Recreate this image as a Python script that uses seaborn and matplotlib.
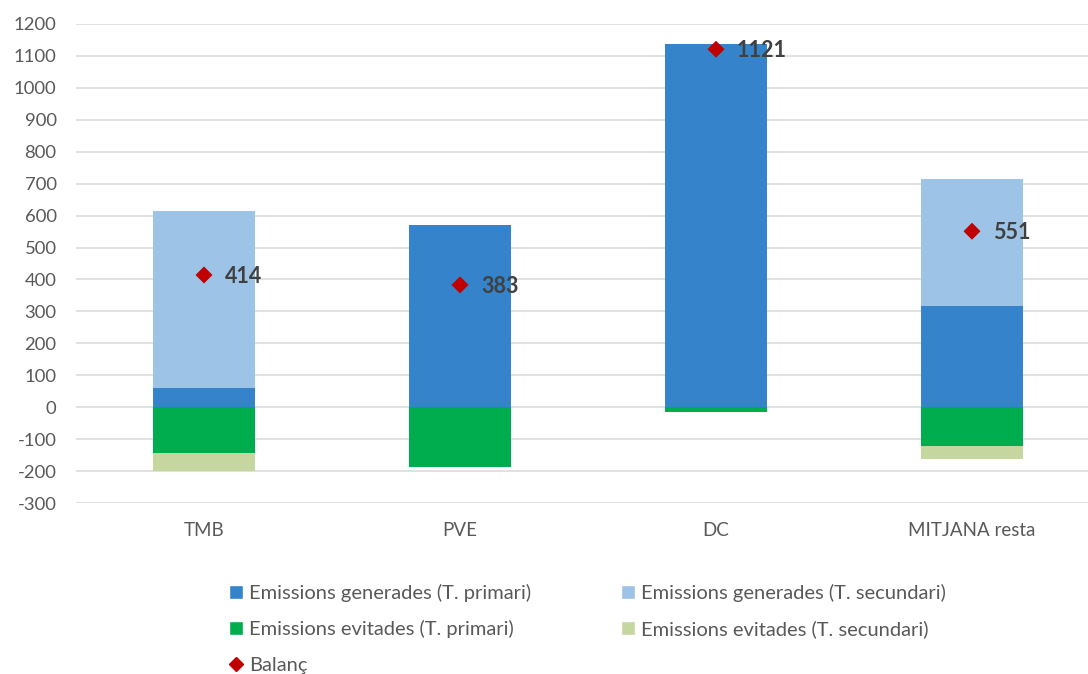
import matplotlib
matplotlib.use("Agg")
import matplotlib.pyplot as plt
import seaborn as sns
import pandas as pd
import numpy as np
from matplotlib.lines import Line2D
from matplotlib.patches import Patch

categories = ["TMB", "PVE", "DC", "MITJANA resta"]
gen_primari = [60, 570, 1137, 318]
gen_secundari = [555, 0, 0, 396]
evit_primari = [-142, -187, -16, -120]
evit_secundari = [-59, 0, 0, -43]
balanc = [414, 383, 1121, 551]

labels = {
    "gp": "Emissions generades (T. primari)",
    "gs": "Emissions generades (T. secundari)",
    "ep": "Emissions evitades (T. primari)",
    "es": "Emissions evitades (T. secundari)",
    "b": "Balanç",
}
colors = {"gp": "#3483CB", "gs": "#9DC3E6", "ep": "#00AD4E", "es": "#C5D79E", "b": "#C00000"}

sns.set_theme(style="white")
plt.rcParams["font.family"] = ["Lato", "DejaVu Sans"]
plt.rcParams["axes.unicode_minus"] = False

W, H = 1088, 674
fig = plt.figure(figsize=(W / 100, H / 100), dpi=100)
left_px, right_px, top_px, bottom_px = 76, 1088, 24, 503
ax = fig.add_axes([left_px / W, 1 - bottom_px / H, (right_px - left_px) / W, (bottom_px - top_px) / H])

df = pd.DataFrame({
    "cat": categories,
    "gp": gen_primari,
    "gs": gen_secundari,
    "ep": evit_primari,
    "es": evit_secundari,
    "b": balanc,
})

bw = 0.4
sns.barplot(data=df, x="cat", y="gp", color=colors["gp"], width=bw, saturation=1,
            linewidth=0, ax=ax, zorder=2)
sns.barplot(data=df, x="cat", y="gs", bottom=df["gp"].values, color=colors["gs"], width=bw,
            saturation=1, linewidth=0, ax=ax, zorder=2)
sns.barplot(data=df, x="cat", y="ep", color=colors["ep"], width=bw, saturation=1,
            linewidth=0, ax=ax, zorder=2)
sns.barplot(data=df, x="cat", y="es", bottom=df["ep"].values, color=colors["es"], width=bw,
            saturation=1, linewidth=0, ax=ax, zorder=2)
sns.scatterplot(data=df, x="cat", y="b", marker="D", s=75, color=colors["b"],
                edgecolor="none", ax=ax, zorder=4, legend=False)

for i, v in enumerate(balanc):
    ax.annotate(f"{v}", (i, v), xytext=(15, -1), textcoords="offset points",
                ha="left", va="center", fontsize=15.5, fontweight="bold", color="#404040", zorder=5)

ax.set_ylim(-300, 1200)
ax.set_yticks(np.arange(-300, 1201, 100))
ax.set_xlim(-0.5, -0.5 + (right_px - left_px) / 256)
ax.yaxis.grid(True, color="#D9D9D9", linewidth=1.1, zorder=0)
ax.set_axisbelow(True)
for s in ax.spines.values():
    s.set_visible(False)
ax.set_xlabel("")
ax.set_ylabel("")
ax.tick_params(axis="y", length=0, pad=14, labelsize=13.3, labelcolor="#595959")
ax.tick_params(axis="x", length=0, pad=14, labelsize=13.5, labelcolor="#595959")

handles = [
    Patch(facecolor=colors["gp"], label=labels["gp"]),
    Patch(facecolor=colors["ep"], label=labels["ep"]),
    Line2D([], [], marker="D", linestyle="none", color=colors["b"], markersize=7, label=labels["b"]),
    Patch(facecolor=colors["gs"], label=labels["gs"]),
    Patch(facecolor=colors["es"], label=labels["es"]),
]
fig.legend(handles=handles, ncol=2, loc="upper left", bbox_to_anchor=(211 / W, 1 - 566 / H),
           frameon=False, fontsize=14.5, handlelength=0.7, handleheight=0.7, handletextpad=0.3,
           columnspacing=4.45, labelspacing=0.9, labelcolor="#595959")

fig.savefig("out.png", dpi=100)
